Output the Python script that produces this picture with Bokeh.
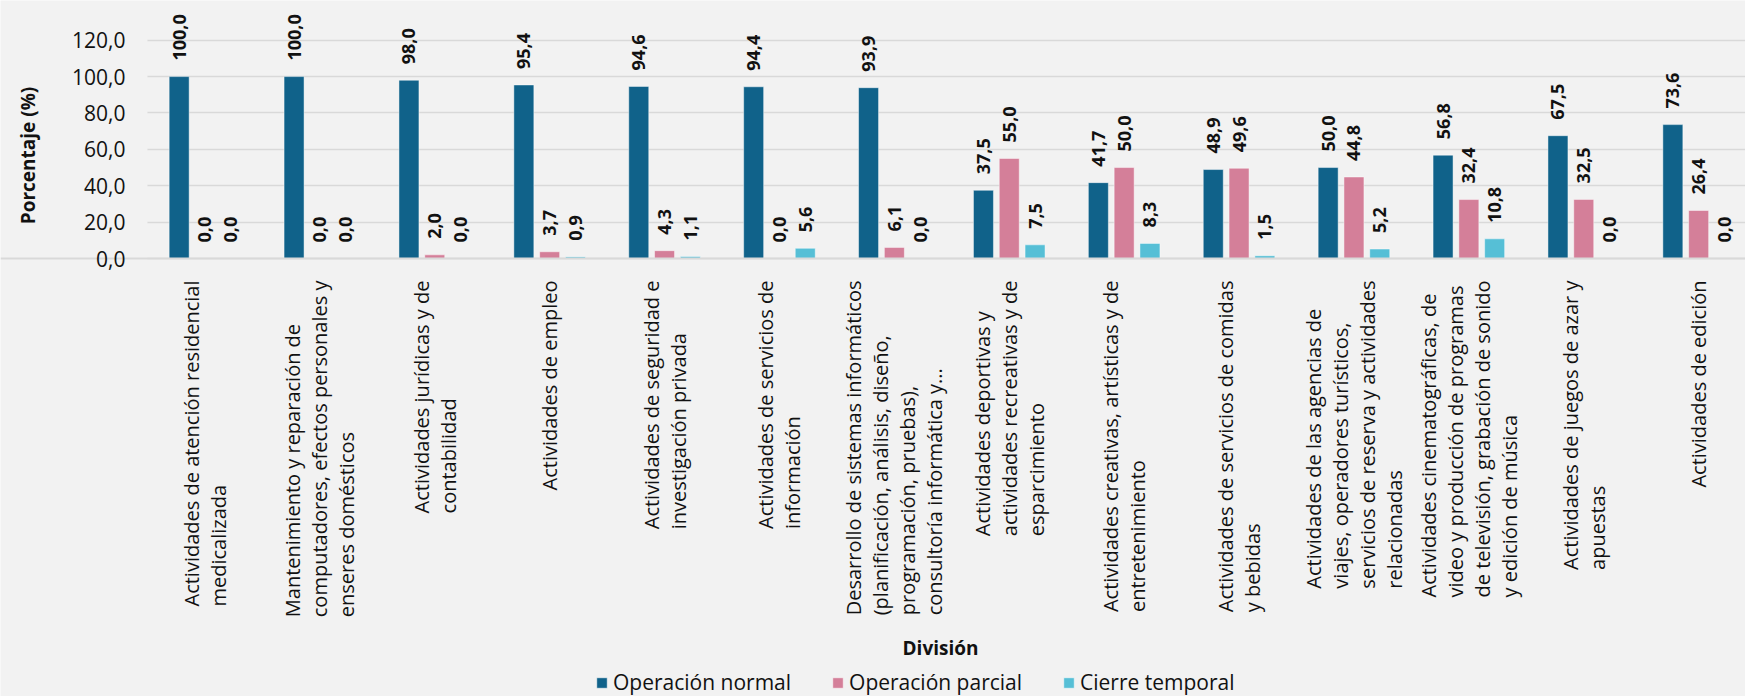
import math
from bokeh.plotting import figure
from bokeh.models import (ColumnDataSource, Range1d, FixedTicker, Label, Legend,
                          LegendItem)
from bokeh.transform import dodge
from bokeh.core.properties import value
from bokeh.embed import file_html
from bokeh.resources import INLINE

# ---------------- data ----------------
categories = [
    "Actividades de atención residencial\nmedicalizada",
    "Mantenimiento y reparación de\ncomputadores, efectos personales y\nenseres domésticos",
    "Actividades jurídicas y de\ncontabilidad",
    "Actividades de empleo",
    "Actividades de seguridad e\ninvestigación privada",
    "Actividades de servicios de\ninformación",
    "Desarrollo de sistemas informáticos\n(planificación, análisis, diseño,\nprogramación, pruebas),\nconsultoría informática y...",
    "Actividades deportivas y\nactividades recreativas y de\nesparcimiento",
    "Actividades creativas, artísticas y de\nentretenimiento",
    "Actividades de servicios de comidas\ny bebidas",
    "Actividades de las agencias de\nviajes, operadores turísticos,\nservicios de reserva y actividades\nrelacionadas",
    "Actividades cinematográficas, de\nvideo y producción de programas\nde televisión, grabación de sonido\ny edición de música",
    "Actividades de juegos de azar y\napuestas",
    "Actividades de edición",
]
series_names = ["Operación normal", "Operación parcial", "Cierre temporal"]
operacion_normal = [100.0, 100.0, 98.0, 95.4, 94.6, 94.4, 93.9, 37.5, 41.7, 48.9, 50.0, 56.8, 67.5, 73.6]
operacion_parcial = [0.0, 0.0, 2.0, 3.7, 4.3, 0.0, 6.1, 55.0, 50.0, 49.6, 44.8, 32.4, 32.5, 26.4]
cierre_temporal = [0.0, 0.0, 0.0, 0.9, 1.1, 5.6, 0.0, 7.5, 8.3, 1.5, 5.2, 10.8, 0.0, 0.0]
y_ticks = [0, 20, 40, 60, 80, 100, 120]
y_tick_labels = ["0,0", "20,0", "40,0", "60,0", "80,0", "100,0", "120,0"]
y_title = "Porcentaje (%)"
x_title = "División"

# ---------------- styles / layout ----------------
colors = ["#10628a", "#d47f99", "#56bfd6"]
BG = "#f2f2f2"
GRID = "#d9d9d9"
FONT = "Open Sans"
TXT = "#111111"

W, H = 1745, 696          # figure placed at page (0, 0)
cat_px = 114.9            # pixels per category
plot_left_px = 147        # page x of the value axis
zero_px = 258             # page y of value 0
ppu = 1.819               # pixels per percentage unit

x_start = -0.5 - plot_left_px / cat_px
x_end = x_start + W / cat_px
y_end = zero_px / ppu
y_start = (zero_px - H) / ppu


def px_to_x(px):
    return -0.5 + (px - plot_left_px) / cat_px


def px_to_y(py):
    return (zero_px - py) / ppu


def fmt(v):
    return f"{v:.1f}".replace(".", ",")


xs = list(range(len(categories)))
src = ColumnDataSource(dict(
    x=xs,
    normal=operacion_normal,
    parcial=operacion_parcial,
    cierre=cierre_temporal,
    normal_lbl=[fmt(v) for v in operacion_normal],
    parcial_lbl=[fmt(v) for v in operacion_parcial],
    cierre_lbl=[fmt(v) for v in cierre_temporal],
))

p = figure(width=W, height=H, output_backend="svg", toolbar_location=None,
           x_range=Range1d(x_start, x_end), y_range=Range1d(y_start, y_end),
           min_border=0)
p.background_fill_color = BG
p.border_fill_color = BG
p.outline_line_color = None

# value axis, drawn at the left edge of the bar area
p.yaxis.fixed_location = -0.5
p.yaxis.ticker = FixedTicker(ticks=y_ticks)
p.yaxis.major_label_overrides = {t: l for t, l in zip(y_ticks, y_tick_labels)}
p.yaxis.axis_line_color = None
p.yaxis.major_tick_line_color = None
p.yaxis.minor_tick_line_color = None
p.yaxis.major_tick_out = 0
p.yaxis.major_tick_in = 0
p.yaxis.major_label_standoff = 22
p.yaxis.major_label_text_font = FONT
p.yaxis.major_label_text_font_size = "21px"
p.yaxis.major_label_text_color = TXT

# category axis line at 0
p.xaxis.fixed_location = 0
p.xaxis.ticker = FixedTicker(ticks=[])
p.xaxis.axis_line_color = GRID
p.xaxis.axis_line_width = 2
p.xaxis.major_tick_line_color = None
p.xaxis.minor_tick_line_color = None
p.xaxis.major_tick_out = 0
p.xaxis.major_label_text_font_size = "0px"

p.xgrid.visible = False
p.ygrid.ticker = FixedTicker(ticks=y_ticks)
p.ygrid.grid_line_color = GRID
p.ygrid.grid_line_width = 1.3
try:
    p.ygrid.cross_bounds = (-0.5, x_end)
except Exception:
    pass

# bars + value labels
offs = [-0.2245, 0.0, 0.2245]
bw = 0.174
cols = ["normal", "parcial", "cierre"]
renderers = []
for off, col, c in zip(offs, cols, colors):
    r = p.vbar(x=dodge("x", off), top=col, width=bw, source=src,
               fill_color=c, line_color="#ffffff", line_alpha=0.45, line_width=1)
    renderers.append(r)
    p.text(x=dodge("x", off), y=col, text=col + "_lbl", source=src,
           angle=math.pi / 2, text_align="left", text_baseline="middle",
           y_offset=-16, text_font=value(FONT), text_font_style="bold",
           text_font_size="18px", text_color=TXT)

# category names below the axis
for i, name in enumerate(categories):
    p.add_layout(Label(x=i, y=px_to_y(zero_px + 22), text=name, angle=math.pi / 2,
                       text_align="left", text_baseline="middle",
                       anchor="center_right", text_line_height=1.0,
                       text_font=FONT, text_font_size="20px", text_color=TXT))

# axis titles
p.add_layout(Label(x=px_to_x(27), y=px_to_y(155), text=y_title, angle=math.pi / 2,
                   text_align="center", text_baseline="middle",
                   text_font=FONT, text_font_size="19px", text_font_style="bold",
                   text_color=TXT))
p.add_layout(Label(x=px_to_x(940), y=px_to_y(647), text=x_title,
                   text_align="center", text_baseline="middle",
                   text_font=FONT, text_font_size="19px", text_font_style="bold",
                   text_color=TXT))

legend = Legend(items=[LegendItem(label=n, renderers=[r]) for n, r in zip(series_names, renderers)],
                orientation="horizontal", location=(595, 0),
                glyph_width=13, glyph_height=13, label_standoff=5, spacing=40,
                padding=0, margin=0, background_fill_alpha=0, border_line_alpha=0,
                label_text_font=FONT, label_text_font_size="21px", label_text_color=TXT)
p.add_layout(legend, "center")

open("out.html", "w").write(file_html(p, INLINE))
